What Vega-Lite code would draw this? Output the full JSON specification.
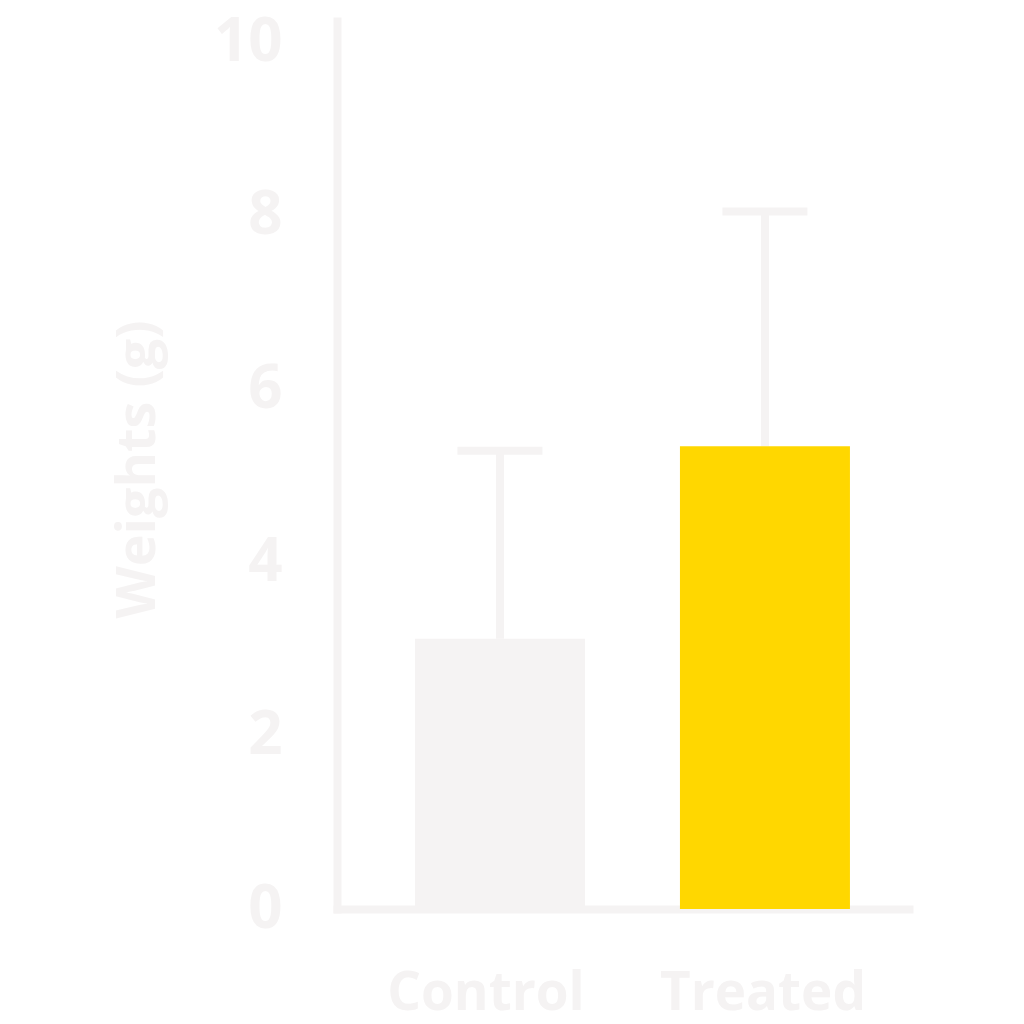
{
  "$schema": "https://vega.github.io/schema/vega-lite/v6.json",
  "autosize": {"type": "none"},
  "padding": {"left": 337, "top": 21, "right": 115, "bottom": 115},
  "width": 572,
  "height": 888,
  "background": "white",
  "config": {
    "view": {"stroke": null},
    "font": "Open Sans"
  },
  "data": {
    "values": [
      {"group": "Control", "weight": 3.12, "upper": 5.29},
      {"group": "Treated", "weight": 5.34, "upper": 8.05}
    ]
  },
  "encoding": {
    "x": {
      "field": "group",
      "type": "nominal",
      "sort": null,
      "title": null,
      "scale": {"paddingInner": 0.3585, "paddingOuter": 0.2585, "align": 0.569},
      "axis": {
        "domainColor": "#f5f3f3",
        "domainWidth": 8,
        "domainCap": "square",
        "ticks": false,
        "labelAngle": 0,
        "labelLimit": 0,
        "labelFont": "Open Sans",
        "labelFontSize": 53,
        "labelFontWeight": "bold",
        "labelColor": "#f5f3f3",
        "labelPadding": 58,
        "labelOffset": {"condition": {"test": "datum.value == 'Control'", "value": -14}, "value": -2}
      }
    }
  },
  "layer": [
    {
      "mark": {"type": "rule", "color": "#f5f3f3", "strokeWidth": 8},
      "encoding": {
        "y": {"field": "weight", "type": "quantitative"},
        "y2": {"field": "upper"}
      }
    },
    {
      "mark": {"type": "tick", "color": "#f5f3f3", "thickness": 8, "size": 85, "opacity": 1},
      "encoding": {
        "y": {"field": "upper", "type": "quantitative"}
      }
    },
    {
      "mark": {"type": "bar"},
      "encoding": {
        "y": {
          "field": "weight",
          "type": "quantitative",
          "title": "Weights (g)",
          "scale": {"domain": [0, 10.25], "nice": false},
          "axis": {
            "values": [0, 2, 4, 6, 8, 10],
            "format": "d",
            "grid": false,
            "ticks": false,
            "domainColor": "#f5f3f3",
            "domainWidth": 8,
            "domainCap": "square",
            "labelFont": "Open Sans",
            "labelFontSize": 60,
            "labelFontWeight": "bold",
            "labelColor": "#f5f3f3",
            "labelPadding": 55,
            "titleFont": "Open Sans",
            "titleFontSize": 54,
            "titleFontWeight": "bold",
            "titleColor": "#f5f3f3",
            "titlePadding": 48,
            "titleY": 448
          }
        },
        "color": {
          "field": "group",
          "type": "nominal",
          "legend": null,
          "scale": {"domain": ["Control", "Treated"], "range": ["#f5f3f3", "#ffd700"]}
        }
      }
    }
  ]
}
